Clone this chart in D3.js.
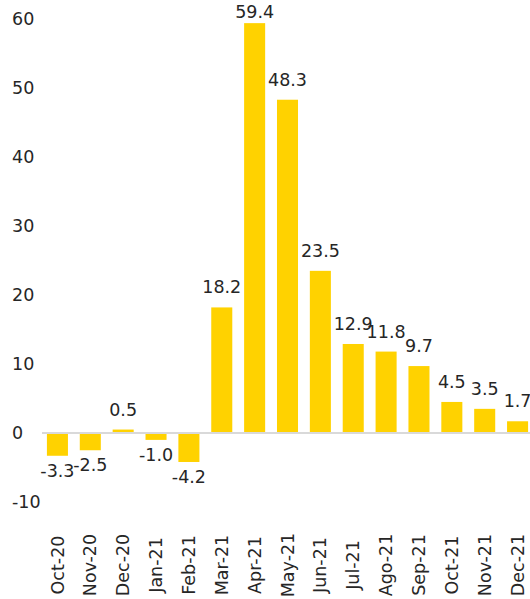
<!DOCTYPE html>
<html>
<head>
<meta charset="utf-8">
<script src="https://cdn.jsdelivr.net/npm/d3@7"></script>
<style>
body { margin: 0; background: #fff; }
text { font-family: "DejaVu Sans", Verdana, sans-serif; fill: #262626; }
</style>
</head>
<body>
<script>
var w = 530;
var h = 599;

var months = ["Oct-20", "Nov-20", "Dec-20", "Jan-21", "Feb-21", "Mar-21", "Apr-21", "May-21",
    "Jun-21", "Jul-21", "Ago-21", "Sep-21", "Oct-21", "Nov-21", "Dec-21"];
var values = [-3.3, -2.5, 0.5, -1.0, -4.2, 18.2, 59.4, 48.3, 23.5, 12.9, 11.8, 9.7, 4.5, 3.5, 1.7];
var yTicks = [-10, 0, 10, 20, 30, 40, 50, 60];

var x = d3.scaleBand()
    .domain(months)
    .range([41, 534])
    .paddingInner(0.36)
    .paddingOuter(0.18);

var y = d3.scaleLinear()
    .domain([-10, 60])
    .range([502, 19]);

var svg = d3.select("body")
    .append("svg")
    .attr("width", w)
    .attr("height", h);

// y labels (no axis line)
svg.selectAll(".ytick")
    .data(yTicks)
    .enter()
    .append("text")
    .attr("class", "ytick")
    .attr("x", 12)
    .attr("y", function (d) { return y(d); })
    .attr("dy", "0.35em")
    .style("font-size", "17.5px")
    .text(function (d) { return d; });

// bars
svg.selectAll("rect")
    .data(values)
    .enter()
    .append("rect")
    .attr("x", function (d, i) { return x(months[i]); })
    .attr("y", function (d) { return y(Math.max(0, d)); })
    .attr("width", x.bandwidth())
    .attr("height", function (d) { return Math.abs(y(d) - y(0)); })
    .attr("fill", "#FFD200");

// zero line
svg.append("line")
    .attr("x1", 42)
    .attr("x2", w)
    .attr("y1", y(0))
    .attr("y2", y(0))
    .attr("stroke", "#d9d9d9")
    .attr("stroke-width", 2);

// value labels (kept inside the top edge, like Excel does)
svg.selectAll(".val")
    .data(values)
    .enter()
    .append("text")
    .attr("class", "val")
    .attr("x", function (d, i) { return x(months[i]) + x.bandwidth() / 2; })
    .attr("y", function (d) { return d >= 0 ? Math.max(y(d) - 14, 18) : y(d) + 21; })
    .attr("text-anchor", "middle")
    .style("font-size", "17.5px")
    .text(function (d) { return d.toFixed(1); });

// month labels, rotated
svg.selectAll(".month")
    .data(months)
    .enter()
    .append("text")
    .attr("class", "month")
    .attr("transform", function (d) {
        return "translate(" + (x(d) + x.bandwidth() / 2) + ",565) rotate(-90)";
    })
    .attr("dy", "0.35em")
    .attr("text-anchor", "middle")
    .style("font-size", "17.5px")
    .text(function (d) { return d; });
</script>
</body>
</html>
